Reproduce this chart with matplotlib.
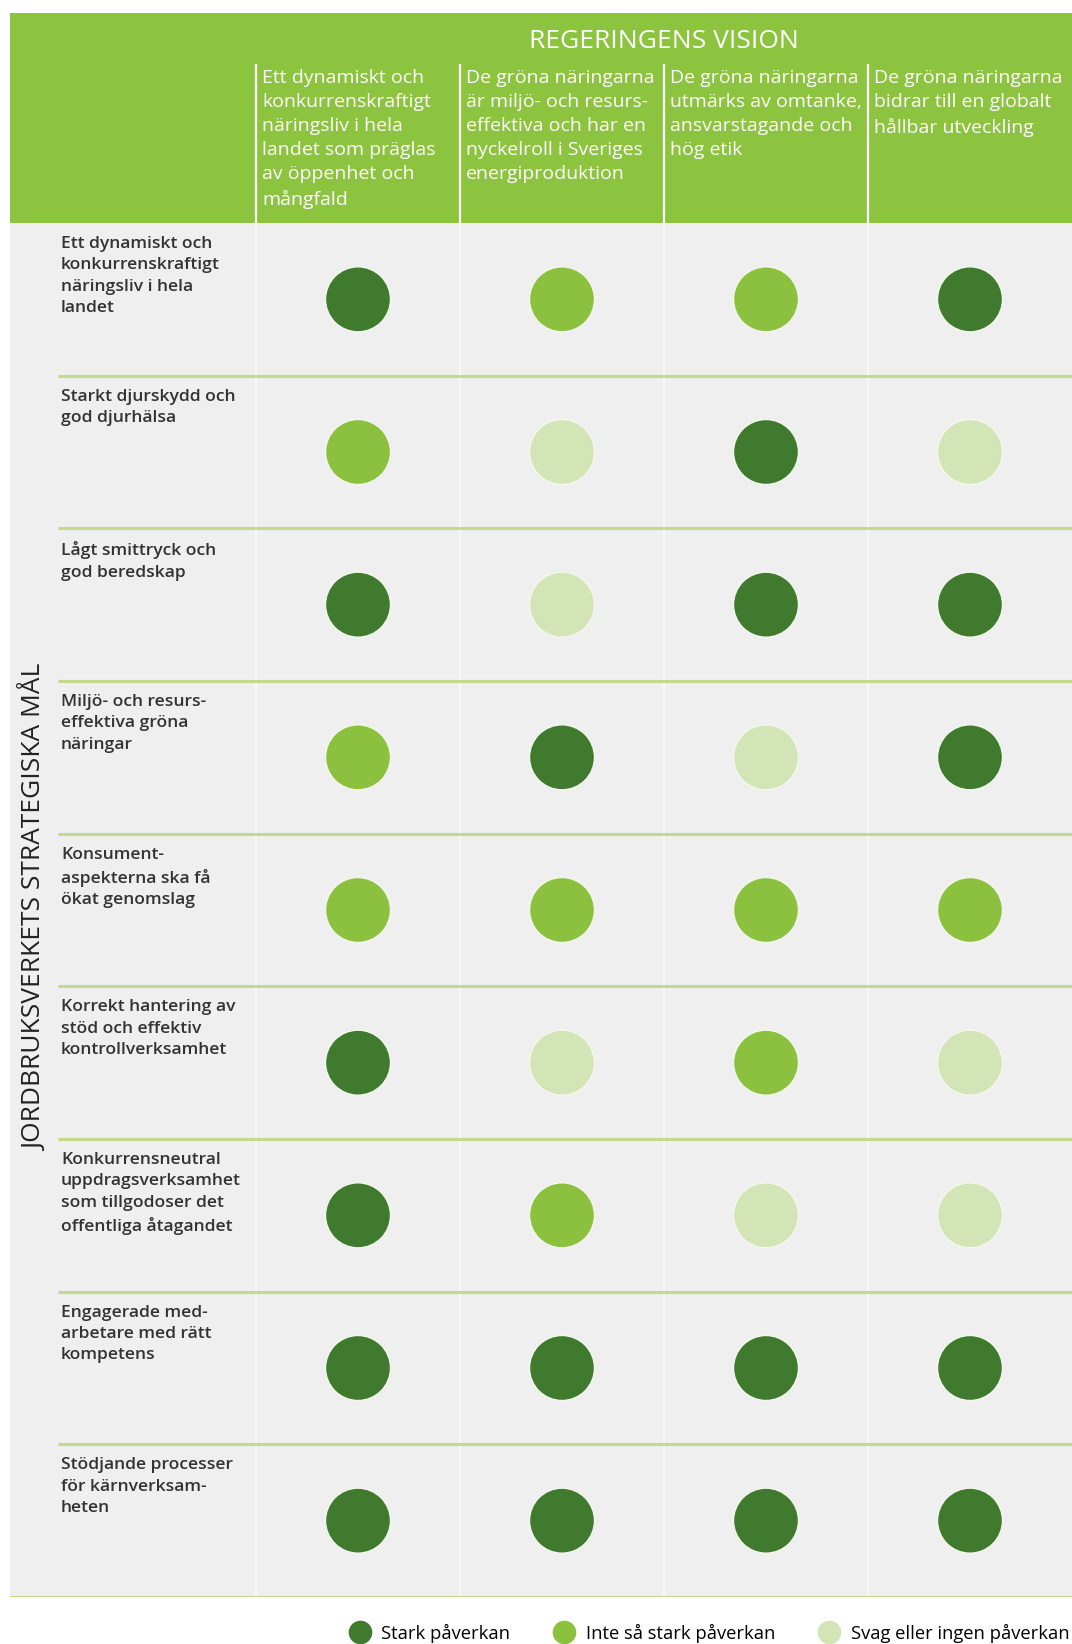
import matplotlib
matplotlib.use("Agg")
import matplotlib.pyplot as plt
from matplotlib import font_manager as fm
from matplotlib.lines import Line2D
from matplotlib.patches import Rectangle
import numpy as np

# ---------------- data ----------------
title = "REGERINGENS VISION"
side_title = "JORDBRUKSVERKETS STRATEGISKA MÅL"
col_labels = [
    "Ett dynamiskt och\nkonkurrenskraftigt\nnäringsliv i hela\nlandet som präglas\nav öppenhet och\nmångfald",
    "De gröna näringarna\när miljö- och resurs-\neffektiva och har en\nnyckelroll i Sveriges\nenergiproduktion",
    "De gröna näringarna\nutmärks av omtanke,\nansvarstagande och\nhög etik",
    "De gröna näringarna\nbidrar till en globalt\nhållbar utveckling",
]
row_labels = [
    "Ett dynamiskt och\nkonkurrenskraftigt\nnäringsliv i hela\nlandet",
    "Starkt djurskydd och\ngod djurhälsa",
    "Lågt smittryck och\ngod beredskap",
    "Miljö- och resurs-\neffektiva gröna\nnäringar",
    "Konsument-\naspekterna ska få\nökat genomslag",
    "Korrekt hantering av\nstöd och effektiv\nkontrollverksamhet",
    "Konkurrensneutral\nuppdragsverksamhet\nsom tillgodoser det\noffentliga åtagandet",
    "Engagerade med-\narbetare med rätt\nkompetens",
    "Stödjande processer\nför kärnverksam-\nheten",
]
legend_labels = ["Stark påverkan", "Inte så stark påverkan", "Svag eller ingen påverkan"]
# 0 = stark, 1 = inte så stark, 2 = svag/ingen
impact = [
    [0, 1, 1, 0],
    [1, 2, 0, 2],
    [0, 2, 0, 0],
    [1, 0, 2, 0],
    [1, 1, 1, 1],
    [0, 2, 1, 2],
    [0, 1, 2, 2],
    [0, 0, 0, 0],
    [0, 0, 0, 0],
]

# ---------------- style ----------------
level_colors = ["#3f7a2f", "#8cc13f", "#d3e4b7"]
header_green = "#8cc43f"
body_bg = "#efefef"
sep_green = "#c3d98c"

def has_font(name):
    try:
        fm.findfont(fm.FontProperties(family=name), fallback_to_default=False)
        return True
    except Exception:
        return False

cond = "Liberation Sans Narrow" if has_font("Liberation Sans Narrow") else "Open Sans"
lab_font = "Open Sans"

W, H = 1072, 1644
fig = plt.figure(figsize=(W / 100, H / 100), dpi=100)
fig.patch.set_facecolor("white")

left_px, right_px, top_px, body_top, bottom_px = 10, 1072, 12.6, 223, 1597
col_px = (right_px - 256) / 4
row_px = (bottom_px - body_top) / 9
x_left = -0.5 - (256 - left_px) / col_px
y_top = -0.5 - (body_top - top_px) / row_px

ax = fig.add_axes([left_px / W, 1 - bottom_px / H, (right_px - left_px) / W, (bottom_px - top_px) / H])
ax.set_xlim(x_left, 3.5)
ax.set_ylim(8.5, y_top)
ax.axis("off")

def px_x(p):
    return x_left + (p - left_px) / col_px

def px_y(p):
    return -0.5 + (p - body_top) / row_px

n_rows, n_cols = len(row_labels), len(col_labels)

# backgrounds
ax.add_patch(Rectangle((x_left, -0.5), 3.5 - x_left, n_rows, facecolor=body_bg, edgecolor="none", zorder=0))
ax.add_patch(Rectangle((px_x(6), y_top), 3.5 - px_x(6), -0.5 - y_top, facecolor=header_green, edgecolor="none", zorder=0))

# header separators
for j in range(n_cols):
    ax.plot([j - 0.5, j - 0.5], [px_y(65), -0.5], color="white", lw=1.6, zorder=1)
# body faint column lines
for j in range(n_cols):
    ax.plot([j - 0.5, j - 0.5], [-0.5, n_rows - 0.5], color="#f7f7f7", lw=1.6, zorder=1)

# row separators
for i in range(n_rows):
    x0 = px_x(58) if i < n_rows - 1 else x_left
    ax.plot([x0, 3.5], [i + 0.5, i + 0.5], color=sep_green, lw=2.2, zorder=2, solid_capstyle="butt")

# title
ax.text(1.5, px_y(41), title, ha="center", va="center", color="white",
        fontsize=19, family=cond)
# column headers
for j, lab in enumerate(col_labels):
    ax.text(j - 0.5 + 6 / col_px, px_y(69), lab, ha="left", va="top", color="white",
            fontsize=14, family=cond, linespacing=1.43)

# row labels
for i, lab in enumerate(row_labels):
    ax.text(px_x(61), i - 0.5 + 13 / row_px, lab, ha="left", va="top", color="#333333",
            fontsize=12.6, family=lab_font, weight="semibold", linespacing=1.44)

# side title
ax.text(px_x(34), px_y(908), side_title, ha="center", va="center", rotation=90,
        color="#222222", fontsize=19, family=cond)

# circles
ii, jj = np.meshgrid(np.arange(n_rows), np.arange(n_cols), indexing="ij")
cols = [level_colors[v] for v in np.array(impact).ravel()]
d_pt = 65 * 72 / 100
ax.scatter(jj.ravel(), ii.ravel(), s=d_pt ** 2, c=cols, edgecolors="#f4f8ec", linewidths=1.0, zorder=3)

# legend
handles = [Line2D([], [], marker="o", linestyle="none", markersize=17, markerfacecolor=c,
                  markeredgecolor="none") for c in level_colors]
fig.legend(handles, legend_labels, loc="center right", bbox_to_anchor=(1.0 + 5 / W, 1 - 1633 / H),
           ncol=3, frameon=False, handletextpad=0.18, columnspacing=1.95, borderaxespad=0.0,
           prop=fm.FontProperties(family=cond, size=13.2))

fig.savefig("out.png", dpi=100, facecolor="white")
